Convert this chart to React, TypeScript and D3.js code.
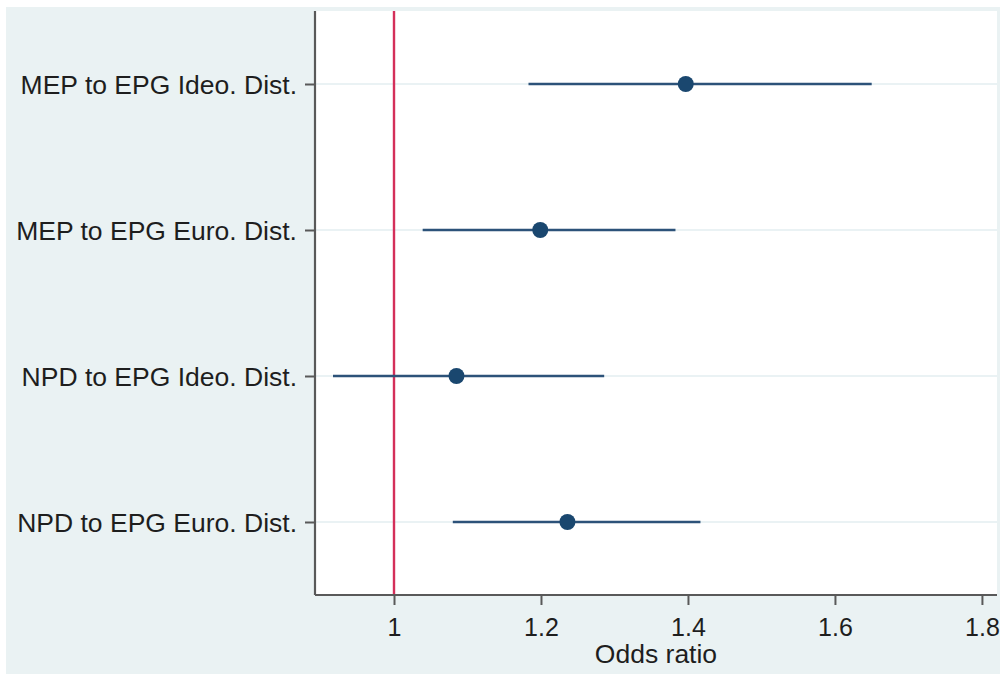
import React, { useEffect, useRef } from 'react';
import * as d3 from 'd3';

// coefficient plot: odds ratios with 95% CIs
const labels = [
  'MEP to EPG Ideo. Dist.',
  'MEP to EPG Euro. Dist.',
  'NPD to EPG Ideo. Dist.',
  'NPD to EPG Euro. Dist.',
];
const oddsRatios = [1.397, 1.199, 1.085, 1.236];
const ciLower = [1.183, 1.039, 0.917, 1.080];
const ciUpper = [1.650, 1.383, 1.286, 1.417];
const xTicks = [1, 1.2, 1.4, 1.6, 1.8];
const xDomain = [0.8925, 1.8205];
const referenceValue = 1;
const xTitle = 'Odds ratio';

const WIDTH = 1003;
const HEIGHT = 674;
const FONT = '"Liberation Sans", Arial, sans-serif';

export default function App() {
  const rootNode = useRef<SVGSVGElement | null>(null);

  useEffect(() => {
    const svg = d3.select(rootNode.current);
    svg.selectAll('*').remove();

    const plot = { left: 315, right: 997, top: 11, bottom: 595 };

    // graph region background
    svg.append('rect')
      .attr('x', 6).attr('y', 7)
      .attr('width', 994).attr('height', HEIGHT - 7)
      .attr('fill', '#eaf2f3');

    svg.append('rect')
      .attr('x', plot.left).attr('y', plot.top)
      .attr('width', plot.right - plot.left).attr('height', plot.bottom - plot.top)
      .attr('fill', '#ffffff');

    const x = d3.scaleLinear().domain(xDomain).range([plot.left, plot.right]);
    const y = d3.scalePoint<string>().domain(labels).range([plot.top, plot.bottom]).padding(0.5);

    const rows = labels.map((name, i) => ({
      name, or: oddsRatios[i], lo: ciLower[i], hi: ciUpper[i],
    }));

    // grid lines
    svg.append('g')
      .selectAll('line')
      .data(labels)
      .enter()
      .append('line')
      .attr('x1', plot.left).attr('x2', plot.right)
      .attr('y1', d => y(d)!).attr('y2', d => y(d)!)
      .attr('stroke', '#e3eef0')
      .attr('stroke-width', 1.5);

    // reference line at OR = 1
    svg.append('line')
      .attr('x1', x(referenceValue)).attr('x2', x(referenceValue))
      .attr('y1', plot.top).attr('y2', plot.bottom)
      .attr('stroke', '#d42f5a')
      .attr('stroke-width', 2.4);

    // confidence intervals
    svg.append('g')
      .selectAll('line')
      .data(rows)
      .enter()
      .append('line')
      .attr('x1', d => x(d.lo)).attr('x2', d => x(d.hi))
      .attr('y1', d => y(d.name)!).attr('y2', d => y(d.name)!)
      .attr('stroke', '#2c5279')
      .attr('stroke-width', 2.6);

    // point estimates
    svg.append('g')
      .selectAll('circle')
      .data(rows)
      .enter()
      .append('circle')
      .attr('cx', d => x(d.or))
      .attr('cy', d => y(d.name)!)
      .attr('r', 8)
      .attr('fill', '#1a476f');

    // axes
    const xAxis = svg.append('g')
      .attr('transform', 'translate(0,' + plot.bottom + ')')
      .call(d3.axisBottom(x).tickValues(xTicks).tickFormat(d3.format('~g')).tickSize(10).tickSizeOuter(0).tickPadding(13));

    const yAxis = svg.append('g')
      .attr('transform', 'translate(' + plot.left + ',0)')
      .call(d3.axisLeft(y).tickSize(10).tickSizeOuter(0).tickPadding(8));

    [xAxis, yAxis].forEach(axis => {
      axis.select('.domain')
        .attr('stroke', '#595959')
        .attr('stroke-width', 2.2)
        .attr('d', axis === xAxis
          ? 'M' + plot.left + ',0H' + plot.right
          : 'M0,' + plot.top + 'V' + plot.bottom);
      axis.selectAll('.tick line')
        .attr('stroke', '#595959')
        .attr('stroke-width', 2);
      axis.selectAll('.tick text')
        .attr('fill', '#1e1e1e')
        .style('font-family', FONT);
    });

    xAxis.selectAll('.tick text')
      .style('font-size', '25px');
    yAxis.selectAll('.tick text')
      .style('font-size', '26.5px')
      .attr('dy', '0.35em');

    svg.append('text')
      .attr('x', (plot.left + plot.right) / 2)
      .attr('y', 663)
      .attr('text-anchor', 'middle')
      .attr('fill', '#1e1e1e')
      .style('font-family', FONT)
      .style('font-size', '26.5px')
      .text(xTitle);
  }, []);

  return (
    <svg
      ref={rootNode}
      width={WIDTH}
      height={HEIGHT}
      style={{ position: 'absolute', left: 0, top: 0, background: '#ffffff' }}
    />
  );
}
